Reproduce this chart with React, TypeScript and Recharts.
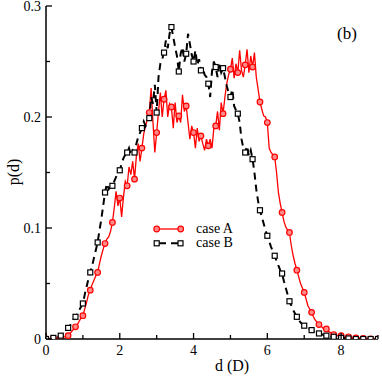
import React from 'react';
import { LineChart, Line, XAxis, YAxis } from 'recharts';

// sampling step of the distance grid, in units of D
const STEP = 0.05;

// p(d), case A (red circles), one value per STEP from d = 0 to 9
const caseA = [
  0, 0, 0, 0,
  0.0005, 0.0005, 0.001, 0.001,
  0.001, 0.001, 0.002, 0.002,
  0.003, 0.005, 0.007, 0.009,
  0.011, 0.013, 0.016, 0.019,
  0.021, 0.027, 0.033, 0.04,
  0.044, 0.049, 0.053, 0.057,
  0.06, 0.068, 0.075, 0.081,
  0.086, 0.09, 0.092, 0.097,
  0.105, 0.118, 0.133, 0.12,
  0.127, 0.11, 0.128, 0.142,
  0.138, 0.155, 0.148, 0.16,
  0.144, 0.165, 0.176, 0.16,
  0.172, 0.185, 0.192, 0.198,
  0.204, 0.226, 0.195, 0.168,
  0.186, 0.205, 0.222, 0.2,
  0.216, 0.224, 0.2, 0.212,
  0.209, 0.19, 0.213, 0.195,
  0.201, 0.195, 0.22, 0.205,
  0.21, 0.195, 0.18, 0.192,
  0.186, 0.172, 0.19, 0.178,
  0.183, 0.176, 0.17, 0.18,
  0.174, 0.18, 0.172, 0.19,
  0.192, 0.205, 0.188, 0.213,
  0.203, 0.218, 0.23, 0.238,
  0.243, 0.253, 0.235, 0.248,
  0.24, 0.26, 0.242, 0.236,
  0.247, 0.261, 0.24, 0.255,
  0.245, 0.258, 0.236, 0.225,
  0.2135, 0.207, 0.201, 0.2,
  0.195, 0.172, 0.168, 0.166,
  0.164, 0.15, 0.132, 0.122,
  0.114, 0.106, 0.101, 0.098,
  0.096, 0.084, 0.075, 0.068,
  0.062, 0.056, 0.05, 0.046,
  0.042, 0.036, 0.03, 0.027,
  0.024, 0.02, 0.017, 0.015,
  0.013, 0.012, 0.01, 0.009,
  0.009, 0.007, 0.006, 0.005,
  0.004, 0.004, 0.003, 0.003,
  0.003, 0.002, 0.002, 0.002,
  0.002, 0.002, 0.001, 0.001,
  0.001, 0.001, 0.001, 0.0005,
  0.0005, 0, 0, 0,
  0, 0, 0, 0,
  0,
];

// p(d), case B (black squares, dashed)
const caseB = [
  0, 0, 0, 0,
  0.001, 0.001, 0.002, 0.002,
  0.003, 0.004, 0.006, 0.008,
  0.01, 0.012, 0.015, 0.018,
  0.02, 0.023, 0.026, 0.029,
  0.032, 0.04, 0.047, 0.054,
  0.06, 0.066, 0.073, 0.08,
  0.087, 0.098, 0.108, 0.12,
  0.132, 0.14, 0.135, 0.137,
  0.138, 0.142, 0.146, 0.15,
  0.152, 0.158, 0.163, 0.166,
  0.168, 0.172, 0.166, 0.17,
  0.168, 0.176, 0.182, 0.186,
  0.19, 0.196, 0.192, 0.197,
  0.199, 0.218, 0.212, 0.229,
  0.204, 0.236, 0.248, 0.252,
  0.258, 0.269, 0.262, 0.275,
  0.281, 0.272, 0.263, 0.255,
  0.241, 0.257, 0.263, 0.25,
  0.257, 0.275, 0.266, 0.256,
  0.25, 0.26, 0.247, 0.252,
  0.242, 0.245, 0.238, 0.236,
  0.23, 0.218, 0.241, 0.25,
  0.245, 0.236, 0.247, 0.24,
  0.244, 0.236, 0.228, 0.222,
  0.218, 0.225, 0.21, 0.206,
  0.203, 0.195, 0.18, 0.172,
  0.168, 0.174, 0.165, 0.17,
  0.162, 0.15, 0.135, 0.124,
  0.116, 0.11, 0.104, 0.098,
  0.093, 0.088, 0.083, 0.079,
  0.075, 0.07, 0.066, 0.062,
  0.059, 0.052, 0.046, 0.04,
  0.034, 0.03, 0.026, 0.023,
  0.02, 0.017, 0.015, 0.013,
  0.012, 0.011, 0.01, 0.009,
  0.008, 0.007, 0.006, 0.006,
  0.005, 0.004, 0.004, 0.003,
  0.003, 0.003, 0.002, 0.002,
  0.002, 0.002, 0.001, 0.001,
  0.001, 0.001, 0.001, 0.0005,
  0.0005, 0, 0, 0,
  0, 0, 0, 0,
  0, 0, 0, 0,
  0, 0, 0, 0,
  0,
];

const xTicks = [0, 1, 2, 3, 4, 5, 6, 7, 8, 9];
const yTicks = [0, 0.05, 0.1, 0.15, 0.2, 0.25, 0.3];

const rows = caseA.map((a, i) => ({ d: i * STEP, a, b: caseB[i] }));

const FONT = '"Liberation Serif", "DejaVu Serif", serif';
const MARK_EVERY = 4; // a symbol on every 4th sample

const isMajorX = (v: number) => Math.round(v) % 2 === 0;
const isMajorY = (v: number) => Math.abs(v * 10 - Math.round(v * 10)) < 1e-6;

// ticks point into the plot, like the original
const BottomTick = (props: any) => {
  const { x, y, payload } = props;
  const major = isMajorX(payload.value);
  return (
    <g>
      <line x1={x} y1={y} x2={x} y2={y - (major ? 6 : 4)} stroke="#000" strokeWidth={1.3} />
      {major && (
        <text x={x} y={y + 16} textAnchor="middle" fontFamily={FONT} fontSize={14} fill="#000">
          {payload.value}
        </text>
      )}
    </g>
  );
};

const TopTick = (props: any) => {
  const { x, y, payload } = props;
  const major = isMajorX(payload.value);
  return <line x1={x} y1={y} x2={x} y2={y + (major ? 6 : 4)} stroke="#000" strokeWidth={1.3} />;
};

const LeftTick = (props: any) => {
  const { x, y, payload } = props;
  const major = isMajorY(payload.value);
  return (
    <g>
      <line x1={x} y1={y} x2={x + (major ? 6 : 4)} y2={y} stroke="#000" strokeWidth={1.3} />
      {major && (
        <text x={x - 5} y={y + 5} textAnchor="end" fontFamily={FONT} fontSize={14} fill="#000">
          {Number(payload.value.toFixed(1)).toString()}
        </text>
      )}
    </g>
  );
};

const RightTick = (props: any) => {
  const { x, y, payload } = props;
  const major = isMajorY(payload.value);
  return <line x1={x} y1={y} x2={x - (major ? 6 : 4)} y2={y} stroke="#000" strokeWidth={1.3} />;
};

const CircleDot = (props: any) => {
  const { cx, cy, index } = props;
  if (index % MARK_EVERY !== 0) return <g key={`ca-${index}`} />;
  return <circle key={`ca-${index}`} cx={cx} cy={cy} r={2.8} fill="#ff8a8a" stroke="#ff0000" strokeWidth={1.2} />;
};

const SquareDot = (props: any) => {
  const { cx, cy, index } = props;
  if (index % MARK_EVERY !== 0) return <g key={`cb-${index}`} />;
  return (
    <rect key={`cb-${index}`} x={cx - 2.5} y={cy - 2.5} width={5} height={5} fill="#fff" stroke="#000" strokeWidth={1.2} />
  );
};

export default function App() {
  return (
    <div style={{ position: 'absolute', left: 0, top: 0, width: 382, height: 377, background: '#fff' }}>
      <LineChart width={382} height={377} data={rows} margin={{ top: 6, right: 4, bottom: 0, left: 6 }}>
        <XAxis
          type="number"
          dataKey="d"
          domain={[0, 9]}
          allowDataOverflow
          ticks={xTicks}
          interval={0}
          height={38}
          tickSize={0}
          tickMargin={0}
          tickLine={false}
          tick={<BottomTick />}
          axisLine={{ stroke: '#000', strokeWidth: 1.5 }}
        />
        <XAxis
          xAxisId="top"
          orientation="top"
          type="number"
          dataKey="d"
          domain={[0, 9]}
          allowDataOverflow
          ticks={xTicks}
          interval={0}
          height={0}
          tickSize={0}
          tickMargin={0}
          tickLine={false}
          tick={<TopTick />}
          axisLine={{ stroke: '#000', strokeWidth: 1.5 }}
        />
        <YAxis
          type="number"
          domain={[0, 0.3]}
          allowDataOverflow
          ticks={yTicks}
          interval={0}
          width={40}
          tickSize={0}
          tickMargin={0}
          tickLine={false}
          tick={<LeftTick />}
          axisLine={{ stroke: '#000', strokeWidth: 1.5 }}
        />
        <YAxis
          yAxisId="right"
          orientation="right"
          type="number"
          domain={[0, 0.3]}
          allowDataOverflow
          ticks={yTicks}
          interval={0}
          width={0}
          tickSize={0}
          tickMargin={0}
          tickLine={false}
          tick={<RightTick />}
          axisLine={{ stroke: '#000', strokeWidth: 1.5 }}
        />
        <Line
          type="linear"
          dataKey="a"
          stroke="#ff0000"
          strokeWidth={1.3}
          dot={CircleDot}
          activeDot={false}
          isAnimationActive={false}
        />
        <Line
          type="linear"
          dataKey="b"
          stroke="#000"
          strokeWidth={2}
          strokeDasharray="7 5"
          dot={SquareDot}
          activeDot={false}
          isAnimationActive={false}
        />
      </LineChart>
      <svg width={382} height={377} style={{ position: 'absolute', left: 0, top: 0, pointerEvents: 'none' }}>
        <text x={337} y={39} fontFamily={FONT} fontSize={17} fill="#000">(b)</text>
        <text x={232} y={371} textAnchor="middle" fontFamily={FONT} fontSize={16} fill="#000">d (D)</text>
        <text
          x={13}
          y={172}
          textAnchor="middle"
          dominantBaseline="central"
          transform="rotate(-90 13 172)"
          fontFamily={FONT}
          fontSize={16}
          fill="#000"
        >
          p(d)
        </text>
        {/* legend */}
        <line x1={156.7} y1={229} x2={180.7} y2={229} stroke="#ff0000" strokeWidth={1.3} />
        <circle cx={156.7} cy={229} r={2.8} fill="#ff8a8a" stroke="#ff0000" strokeWidth={1.2} />
        <circle cx={180.7} cy={229} r={2.8} fill="#ff8a8a" stroke="#ff0000" strokeWidth={1.2} />
        <text x={196} y={233} fontFamily={FONT} fontSize={14} fill="#000">case A</text>
        <line x1={159} y1={243.3} x2={178} y2={243.3} stroke="#000" strokeWidth={2} strokeDasharray="7 5" />
        <rect x={154.2} y={240.8} width={5} height={5} fill="#fff" stroke="#000" strokeWidth={1.2} />
        <rect x={178} y={240.8} width={5} height={5} fill="#fff" stroke="#000" strokeWidth={1.2} />
        <text x={196} y={247} fontFamily={FONT} fontSize={14} fill="#000">case B</text>
      </svg>
    </div>
  );
}
